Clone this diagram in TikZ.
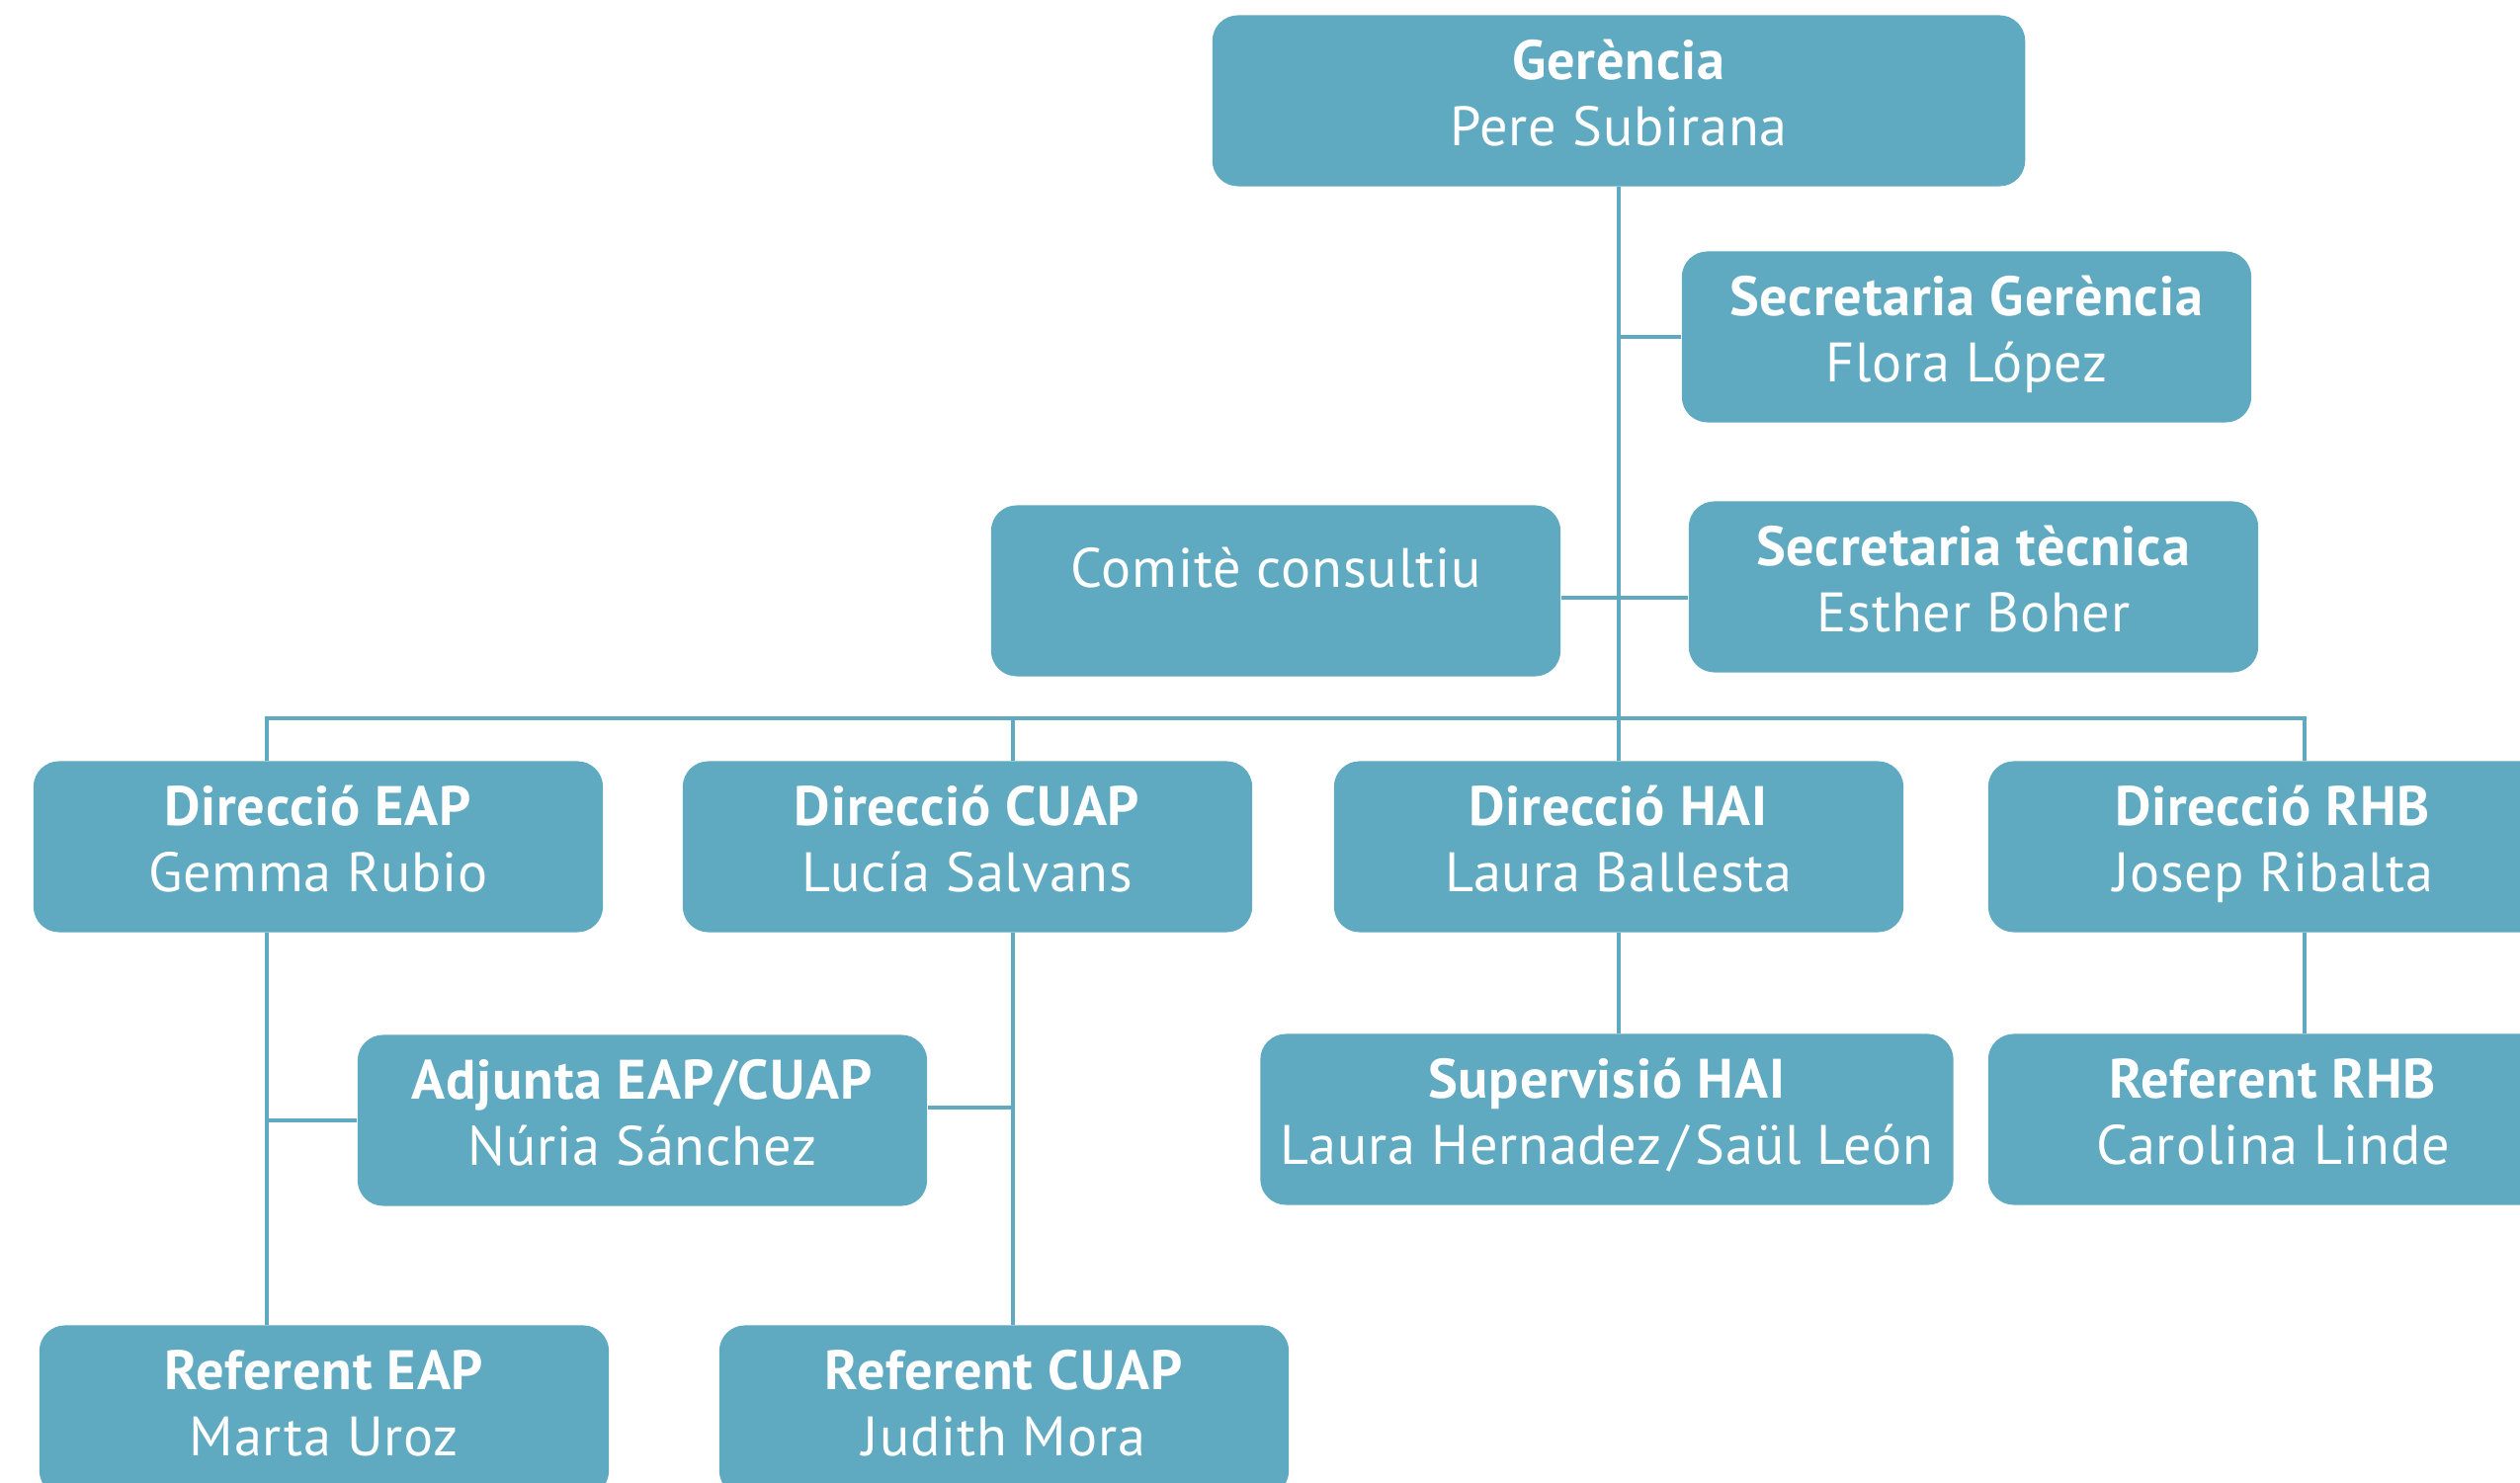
\documentclass[tikz,border=0pt]{standalone}
\usepackage{fontspec}
\setmainfont{PT Sans}[LetterSpace=1.5]
\newfontfamily\namefont[LetterSpace=1.5]{PT Sans}
\definecolor{orgblue}{HTML}{5FA9C1}
\tikzset{
  unit/.style={
    rectangle,
    rounded corners=0.26cm,
    fill=orgblue,
    text=white,
    minimum width=5.76cm,
    minimum height=1.73cm,
    align=center,
    inner sep=0pt,
    text height=30pt,
    text depth=4pt,
    font=\fontsize{16}{19}\selectfont,
  },
  link/.style={draw=orgblue, line width=0.9pt},
}
\newcommand{\unitbox}[2]{\textbf{#1}\\{\namefont #2}}

\begin{document}
\begin{tikzpicture}[x=0.01cm, y=-0.01cm]
\useasboundingbox (0,0) rectangle (2550,1501);
\clip (0,0) rectangle (2550,1501);
% top
\node[unit, minimum width=8.22cm] (ger) at (1638,102) {\unitbox{Gerència}{Pere Subirana}};
\node[unit] (secg) at (1990,341) {\unitbox{Secretaria Gerència}{Flora López}};
\node[unit, text height=5pt, text depth=6.8pt] (comite) at (1291,598) {\namefont Comitè consultiu};
\node[unit] (sect) at (1997,594) {\unitbox{Secretaria tècnica}{Esther Boher}};
% directions
\node[unit] (deap) at (322,857) {\unitbox{Direcció EAP}{Gemma Rubio}};
\node[unit] (dcuap) at (979,857) {\unitbox{Direcció CUAP}{Lucía Salvans}};
\node[unit] (dhai) at (1638,857) {\unitbox{Direcció HAI}{Laura Ballesta}};
\node[unit] (drhb) at (2300,857) {\unitbox{Direcció RHB}{Josep Ribalta}};
% second level
\node[unit] (adj) at (650,1134) {\unitbox{Adjunta EAP/CUAP}{Núria Sánchez}};
\node[unit, minimum width=7.01cm] (shai) at (1626,1133) {\unitbox{Supervisió HAI}{Laura Hernadez\kern2pt/\kern2pt Saül León}};
\node[unit] (rrhb) at (2300,1133) {\unitbox{Referent RHB}{Carolina Linde}};
\node[unit] (reap) at (328,1428) {\unitbox{Referent EAP}{Marta Uroz}};
\node[unit] (rcuap) at (1016,1428) {\unitbox{Referent CUAP}{Judith Mora}};
% bus points
\coordinate (eapx) at (270,727);
\coordinate (cuapx) at (1025,727);
\coordinate (rhbx) at (2332,727);
% links
\draw[link] (ger) -- (dhai);
\draw[link] (secg.west) -- (secg.west -| ger.south);
\draw[link] ([yshift=-0.07cm]comite.east) -- ([yshift=-0.07cm]comite.east -| sect.west);
\draw[link] (eapx |- deap.north) -- (eapx) -- (rhbx) -- (rhbx |- drhb.north);
\draw[link] (cuapx) -- (cuapx |- dcuap.north);
\draw[link] (eapx |- deap.south) -- (eapx |- reap.north);
\draw[link] (cuapx |- dcuap.south) -- (cuapx |- rcuap.north);
\draw[link] (adj.west) -- (adj.west -| eapx);
\draw[link] ([yshift=0.13cm]adj.east) -- ([yshift=0.13cm]adj.east -| cuapx);
\draw[link] (dhai.south) -- (dhai.south |- shai.north);
\draw[link] (rhbx |- drhb.south) -- (rhbx |- rrhb.north);
\end{tikzpicture}
\end{document}
